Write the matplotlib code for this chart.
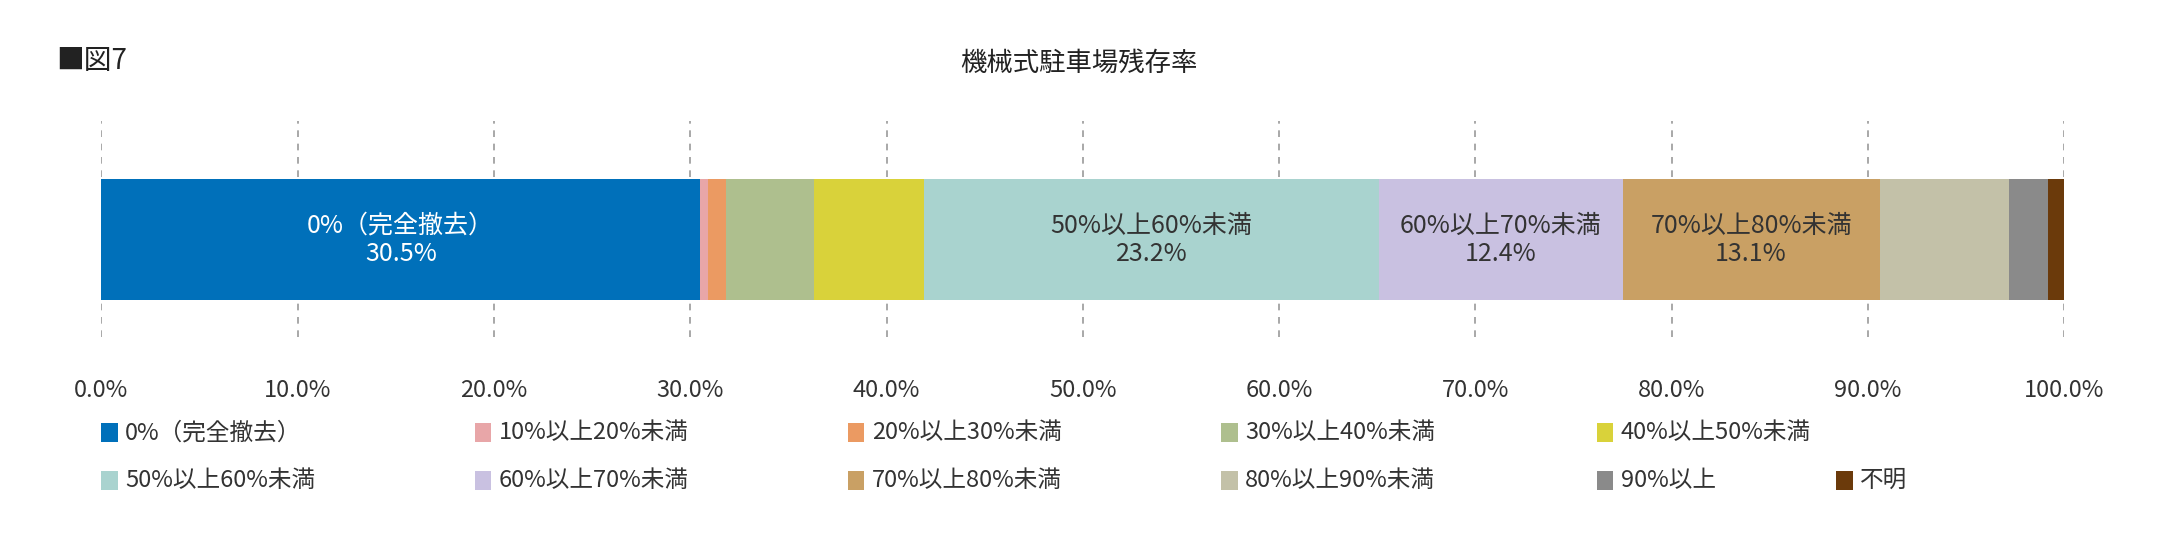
import matplotlib
matplotlib.use("Agg")
import matplotlib.pyplot as plt
from matplotlib.patches import Rectangle

plt.rcParams['font.family'] = ['Noto Sans CJK JP', 'DejaVu Sans']

categories = ["0%（完全撤去）", "10%以上20%未満", "20%以上30%未満", "30%以上40%未満", "40%以上50%未満",
              "50%以上60%未満", "60%以上70%未満", "70%以上80%未満", "80%以上90%未満", "90%以上", "不明"]
values = [30.5, 0.4, 0.9, 4.5, 5.6, 23.2, 12.4, 13.1, 6.6, 2.0, 0.8]
colors = ["#0070BA", "#E8A6A8", "#EB9A62", "#AEBF8E", "#D9D23A", "#A9D3CF",
          "#C9C1E1", "#C9A064", "#C3C1A8", "#8A8A8A", "#6B3A0B"]
xticks = [0, 10, 20, 30, 40, 50, 60, 70, 80, 90, 100]

fig = plt.figure(figsize=(21.58, 5.51), dpi=100)
ax = fig.add_axes([0.047, 0.3875, 0.9095, 0.3925])
left = 0
for c, v, col in zip(categories, values, colors):
    ax.barh(0.452, v, left=left, height=0.56, color=col, zorder=2)
    if v >= 12:
        tc = "white" if col == "#0070BA" else "#333333"
        ax.text(left + v / 2, 0.452, f"{c}\n{v:.1f}%", ha="center", va="center",
                fontsize=18, color=tc, zorder=3, linespacing=1.1)
    left += v
ax.set_xlim(0, 100)
ax.set_ylim(0, 1)
ax.set_xticks(xticks)
ax.set_xticklabels([f"{t:.1f}%" for t in xticks], fontsize=17, color="#333333")
ax.tick_params(axis="x", length=0, pad=30)
ax.set_yticks([])
for s in ax.spines.values():
    s.set_visible(False)
ax.grid(axis="x", linestyle=(0, (4, 4)), color="#999999", linewidth=1.2, zorder=1)

fig.text(0.5, 0.885, "機械式駐車場残存率", ha="center", va="center", fontsize=19, color="#222222")
fig.text(0.026, 0.89, "■図7", ha="left", va="center", fontsize=20, color="#222222")

pos = [(0.047, 0.215), (0.220, 0.215), (0.393, 0.215), (0.566, 0.215), (0.740, 0.215),
       (0.047, 0.128), (0.220, 0.128), (0.393, 0.128), (0.566, 0.128), (0.740, 0.128), (0.851, 0.128)]
for (x, y), c, col in zip(pos, categories, colors):
    fig.patches.append(Rectangle((x, y - 0.018), 0.0075, 0.036, transform=fig.transFigure,
                                 facecolor=col, edgecolor="none"))
    fig.text(x + 0.011, y, c, ha="left", va="center", fontsize=17, color="#333333")

fig.savefig("out.png", dpi=100)
